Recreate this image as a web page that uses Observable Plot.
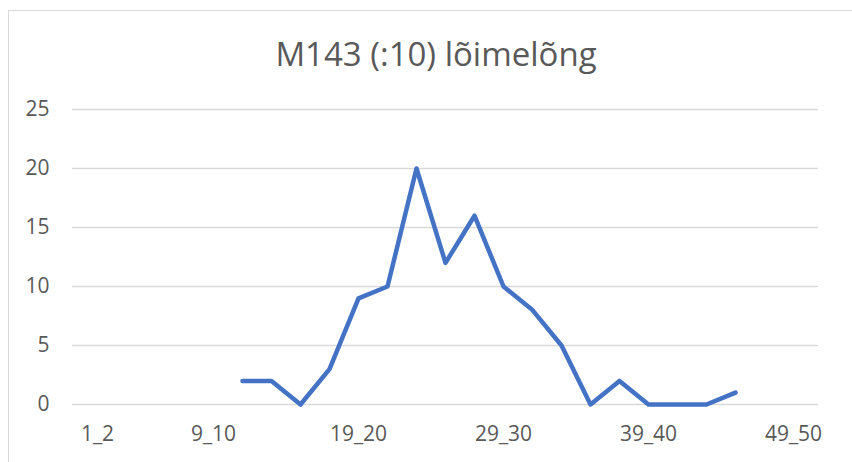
<!DOCTYPE html>
<html>
<head>
<meta charset="utf-8">
<script src="https://cdn.jsdelivr.net/npm/d3@7"></script>
<script src="https://cdn.jsdelivr.net/npm/@observablehq/plot@0.6"></script>
<style>
  html, body { margin: 0; padding: 0; background: #fff; overflow: hidden; }
  #wrap { position: relative; width: 852px; height: 462px; font-family: "Open Sans", sans-serif; }
  #frame { position: absolute; left: 8px; top: 10px; width: 900px; height: 500px; border: 1.5px solid #d9d9d9; box-sizing: border-box; }
  #title { position: absolute; left: 0; top: 0; width: 872px; height: 90px; text-align: center; font-size: 33px; line-height: 33px; color: #595959; padding-top: 37px; box-sizing: border-box; }
  #chart { position: absolute; left: 0; top: 90px; }
</style>
</head>
<body>
<div id="wrap">
  <div id="frame"></div>
  <div id="title">M143 (:10) lõimelõng</div>
  <div id="chart"></div>
</div>
<script>
const categories = ["1_2","3_4","5_6","7_8","9_10","11_12","13_14","15_16","17_18","19_20",
  "21_22","23_24","25_26","27_28","29_30","31_32","33_34","35_36","37_38","39_40",
  "41_42","43_44","45_46","47_48","49_50"];
const seriesCategories = ["11_12","13_14","15_16","17_18","19_20","21_22","23_24","25_26","27_28",
  "29_30","31_32","33_34","35_36","37_38","39_40","41_42","43_44","45_46"];
const seriesValues = [2,2,0,3,9,10,20,12,16,10,8,5,0,2,0,0,0,1];
const xTickLabels = ["1_2","9_10","19_20","29_30","39_40","49_50"];
const yTicks = [0,5,10,15,20,25];

const data = seriesCategories.map((c, i) => ({cat: c, value: seriesValues[i]}));

const chart = Plot.plot({
  width: 852,
  height: 372,
  marginTop: 19,
  marginBottom: 58,
  marginLeft: 72,
  marginRight: 34,
  style: {fontFamily: "Open Sans, sans-serif", fontSize: "21px", color: "#595959", background: "transparent"},
  x: {type: "point", domain: categories, padding: 0.5},
  y: {domain: [0, 25]},
  marks: [
    Plot.ruleY(yTicks, {stroke: "#d9d9d9", strokeWidth: 1.5}),
    Plot.axisY({ticks: yTicks, tickSize: 0, tickPadding: 23, label: null, fontSize: 21, fill: "#595959"}),
    Plot.axisX({ticks: xTickLabels, tickSize: 0, tickPadding: 22, label: null, fontSize: 21, fill: "#595959"}),
    Plot.lineY(data, {x: "cat", y: "value", stroke: "#4472C4", strokeWidth: 4.5, strokeLinejoin: "round", strokeLinecap: "round"})
  ]
});
document.getElementById("chart").appendChild(chart);
</script>
</body>
</html>
